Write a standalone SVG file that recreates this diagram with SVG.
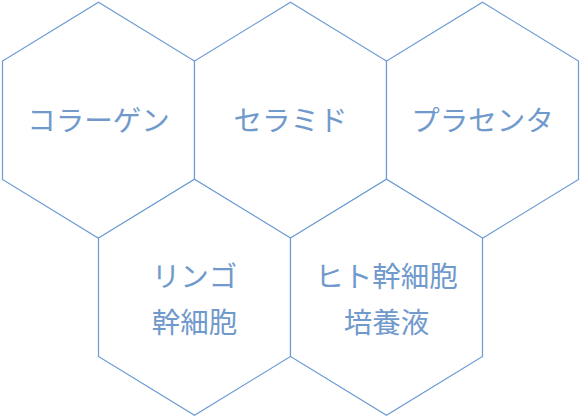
<svg xmlns="http://www.w3.org/2000/svg" width="580" height="420" viewBox="0 0 580 420">
<style>
.hex{fill:#ffffff;stroke:#6b9bd2;stroke-width:1.2}
.lbl{font-family:"Noto Sans CJK JP","Noto Sans CJK SC",sans-serif;font-size:28.5px;font-weight:400;fill:#7099cc;text-anchor:middle}
</style>
<defs>
<polygon id="hx" points="0,-118 96,-59.25 96,59.25 0,118 -96,59.25 -96,-59.25"/>
</defs>
<rect width="580" height="420" fill="#ffffff"/>
<g id="n-collagen">
<use href="#hx" class="hex" x="98.5" y="120.25"/>
<text class="lbl" x="98.5" y="130.8">コラーゲン</text>
</g>
<g id="n-ceramide">
<use href="#hx" class="hex" x="290.5" y="120.25"/>
<text class="lbl" x="290.5" y="130.8">セラミド</text>
</g>
<g id="n-placenta">
<use href="#hx" class="hex" x="482.5" y="120.25"/>
<text class="lbl" x="482.5" y="130.8">プラセンタ</text>
</g>
<g id="n-apple">
<use href="#hx" class="hex" x="194.5" y="297.25"/>
<text class="lbl" x="194.5" y="287">リンゴ</text>
<text class="lbl" x="194.5" y="333">幹細胞</text>
</g>
<g id="n-human">
<use href="#hx" class="hex" x="386.5" y="297.25"/>
<text class="lbl" x="386.5" y="287">ヒト幹細胞</text>
<text class="lbl" x="386.5" y="333">培養液</text>
</g>
<g id="connectors"></g>
</svg>
